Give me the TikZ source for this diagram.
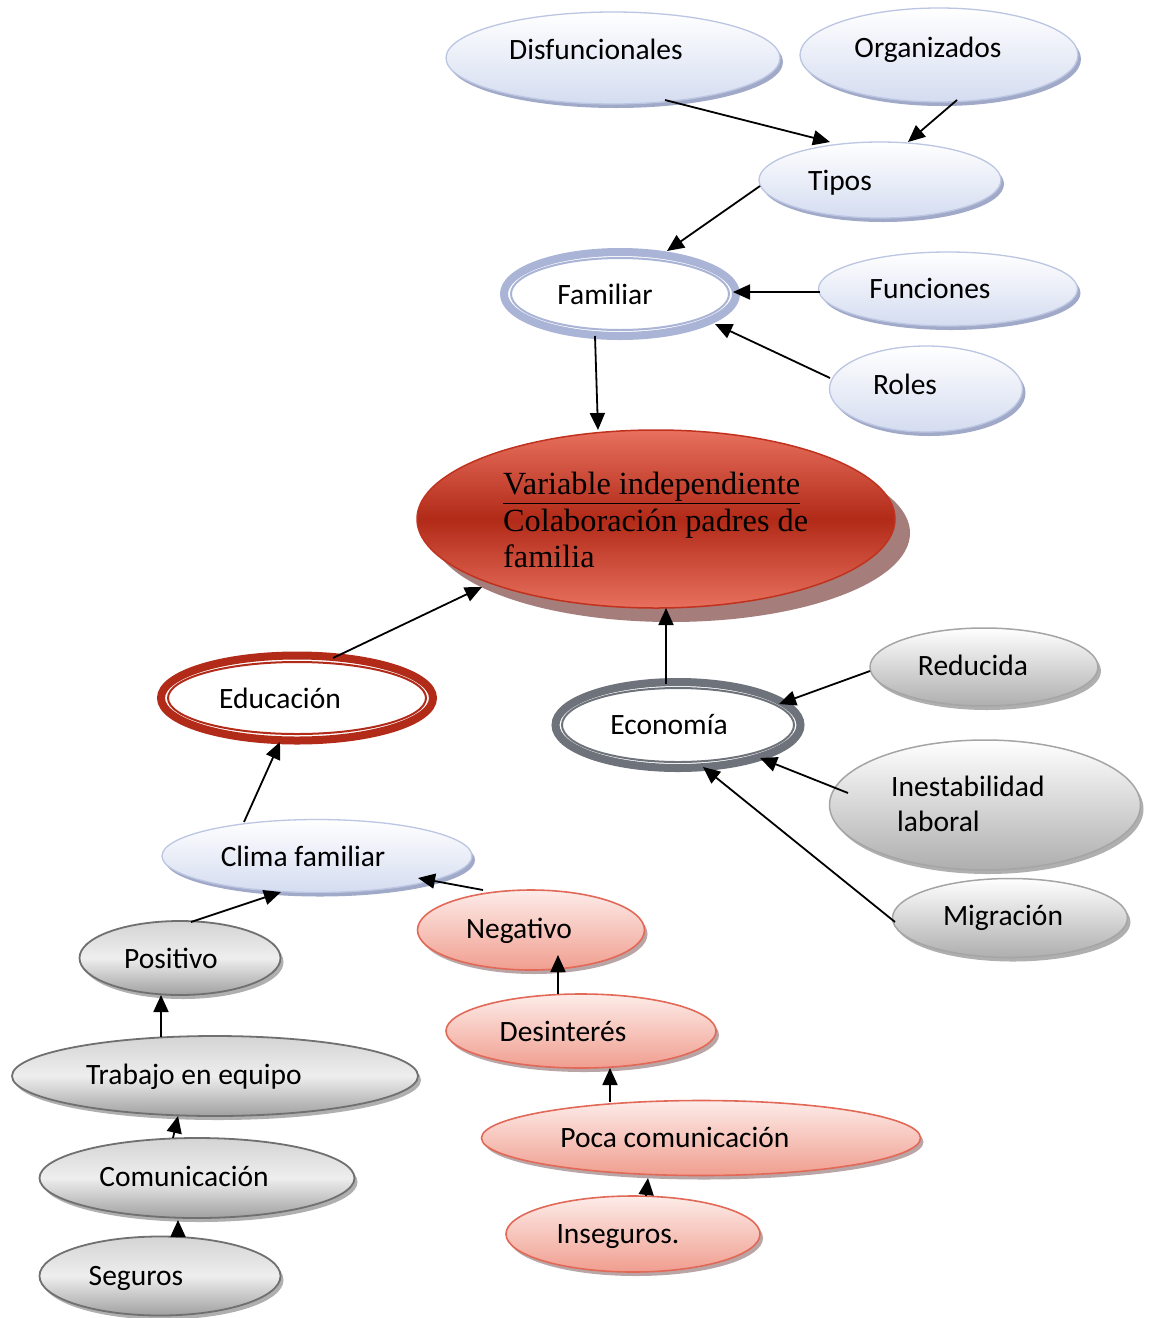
\documentclass[tikz,border=0pt]{standalone}
\usepackage{fontspec}
\setmainfont{Carlito}
\newfontfamily\censerif{Liberation Serif}
\usetikzlibrary{shapes.geometric,arrows.meta,calc,shadows}
\definecolor{bluebot}{RGB}{212,220,240}
\definecolor{bluebd}{RGB}{188,198,226}
\definecolor{bluesh}{RGB}{160,170,200}
\definecolor{graytop}{RGB}{212,212,212}
\definecolor{graymid}{RGB}{238,238,238}
\definecolor{graybot}{RGB}{160,160,160}
\definecolor{graybd}{RGB}{112,112,112}
\definecolor{graylbd}{RGB}{165,165,165}
\definecolor{graysh}{RGB}{175,175,175}
\definecolor{pinktop}{RGB}{253,236,233}
\definecolor{pinkbot}{RGB}{240,158,143}
\definecolor{pinkbd}{RGB}{226,105,88}
\definecolor{pinksh}{RGB}{185,165,165}
\definecolor{redlight}{RGB}{232,112,94}
\definecolor{reddark}{RGB}{178,42,24}
\definecolor{redbd}{RGB}{192,50,30}
\definecolor{redsh}{RGB}{165,125,122}
\definecolor{famcol}{RGB}{169,180,214}
\definecolor{educol}{RGB}{178,42,24}
\definecolor{ecocol}{RGB}{110,114,122}
\begin{document}
\begin{tikzpicture}[x=1pt,y=-1pt,
  base/.style={ellipse, inner sep=0pt, outer sep=0pt},
  blueel/.style={base, draw=bluebd, line width=1.3pt, top color=white, bottom color=bluebot,
    general shadow={fill=bluesh, shadow xshift=3pt, shadow yshift=-4pt}},
  grayel/.style={base, draw=graybd, line width=1.8pt, top color=graytop, bottom color=graybot, middle color=graymid,
    general shadow={fill=graysh, shadow xshift=3pt, shadow yshift=-4pt}},
  graylel/.style={base, draw=graylbd, line width=1.5pt, top color=white, bottom color=graybot!85!white,
    general shadow={fill=graysh, shadow xshift=3pt, shadow yshift=-4pt}},
  pinkel/.style={base, draw=pinkbd, line width=1.6pt, top color=pinktop, bottom color=pinkbot,
    general shadow={fill=pinksh, shadow xshift=3pt, shadow yshift=-4pt}},
  dblel/.style={base, line width=8pt, fill=white},
  txt/.style={font=\fontsize{29.5}{36}\selectfont, inner sep=0pt, text height=21pt, text depth=2pt},
  arr/.style={line width=1.8pt, -{Triangle[length=17pt,width=15pt]}}
]
\useasboundingbox[fill=white] (0,0) rectangle (1149,1318);

% top blue ellipses
\node[blueel, minimum width=334pt, minimum height=92pt] (dis) at (613,58) {};
\node[txt] at (596,50) {Disfuncionales};
\node[blueel, minimum width=278pt, minimum height=94pt] (org) at (939,55) {};
\node[txt] at (928,48) {Organizados};
\node[blueel, minimum width=242pt, minimum height=76pt] (tip) at (880,180) {};
\node[txt] at (840,181) {Tipos};
\node[blueel, minimum width=259pt, minimum height=74pt] (fun) at (948,289) {};
\node[txt] at (930,289) {Funciones};
\node[blueel, minimum width=193pt, minimum height=86pt] (rol) at (926,389) {};
\node[txt] at (905,385) {Roles};

% Familiar (double)
\node[dblel, draw=famcol, minimum width=232pt, minimum height=84pt] (fam) at (620,294) {};
\draw[famcol, line width=2pt] (fam.center) ellipse (109 and 36);
\node[txt] at (605,295) {Familiar};

% central
\fill[redsh] (671,533) ellipse (239 and 89);
\node[base, draw=redbd, line width=1.5pt, top color=redlight, bottom color=redlight, middle color=reddark,
  minimum width=478pt, minimum height=178pt] (cen) at (656,519) {};
\node[font=\censerif\fontsize{32.3}{36.5}\selectfont, align=left, anchor=west, inner sep=0pt] at (503,520)
  {\underline{Variable independiente}\\Colaboración padres de\\familia};

% Educacion (double)
\node[dblel, draw=educol, minimum width=272pt, minimum height=85pt] (edu) at (297,698) {};
\draw[educol, line width=2pt] (edu.center) ellipse (129 and 36);
\node[txt] at (280,699) {Educación};

% Economia (double)
\node[dblel, draw=ecocol, minimum width=245pt, minimum height=86pt] (eco) at (678,725) {};
\draw[ecocol, line width=2pt] (eco.center) ellipse (116 and 37);
\node[txt] at (669,725) {Economía};

% right gray ellipses
\node[graylel, minimum width=228pt, minimum height=78pt] (red) at (984,667) {};
\node[txt] at (973,666) {Reducida};
\node[graylel, minimum width=311pt, minimum height=130pt] (ine) at (985,805) {};
\node[align=left, anchor=west, inner sep=0pt, font=\fontsize{29.5}{35}\selectfont] at (891,804) {Inestabilidad\\\hspace*{6pt}laboral};
\node[graylel, minimum width=235pt, minimum height=79pt] (mig) at (1010,918) {};
\node[txt] at (1003,916) {Migración};

% Clima familiar
\node[blueel, minimum width=310pt, minimum height=73pt] (cli) at (317,856) {};
\node[txt] at (303,857) {Clima familiar};

% pink chain
\node[pinkel, minimum width=227pt, minimum height=80pt] (neg) at (531,930) {};
\node[txt] at (519,929) {Negativo};
\node[pinkel, minimum width=270pt, minimum height=74pt] (des) at (581,1031) {};
\node[txt] at (563,1032) {Desinterés};
\node[pinkel, minimum width=439pt, minimum height=75pt] (poc) at (701,1138) {};
\node[txt] at (675,1138) {Poca comunicación};
\node[pinkel, minimum width=254pt, minimum height=76pt] (ins) at (633,1234) {};
\node[txt] at (618,1234) {Inseguros.};

% gray chain
\node[grayel, minimum width=201pt, minimum height=74pt] (pos) at (180,958) {};
\node[txt] at (171,959) {Positivo};
\node[grayel, minimum width=406pt, minimum height=80pt] (tra) at (215,1076) {};
\node[txt] at (194,1075) {Trabajo en equipo};
\node[grayel, minimum width=315pt, minimum height=80pt] (com) at (197,1178) {};
\node[txt] at (184,1177) {Comunicación};
\node[grayel, minimum width=241pt, minimum height=79pt] (seg) at (160,1276) {};
\node[txt] at (136,1276) {Seguros};

% connectors
\draw[arr] ($(dis.center)+(52,42)$) -- ($(tip.center)+(-50,-38)$);
\draw[arr] ($(org.center)+(18,45)$) -- ($(tip.center)+(28,-38)$);
\draw[arr] ($(tip.center)+(-120,6)$) -- ($(fam.center)+(47,-43)$);
\draw[arr] ($(fun.center)+(-128,3)$) -- ($(fam.center)+(113,-2)$);
\draw[arr] ($(rol.center)+(-96,-11)$) -- ($(fam.center)+(95,30)$);
\draw[arr] ($(fam.center)+(-25,42)$) -- ($(cen.center)+(-58,-89)$);
\draw[arr] ($(edu.center)+(36,-40)$) -- ($(cen.center)+(-174,68)$);
\draw[arr] ($(eco.center)+(-12,-41)$) -- ($(cen.center)+(10,89)$);
\draw[arr] ($(red.center)+(-114,4)$) -- ($(eco.center)+(101,-21)$);
\draw[arr] ($(ine.center)+(-137,-12)$) -- ($(eco.center)+(82,33)$);
\draw[arr] ($(mig.center)+(-115,4)$) -- ($(eco.center)+(25,42)$);
\draw[arr] ($(cli.center)+(-73,-34)$) -- ($(edu.center)+(-17,44)$);
\draw[arr] ($(pos.center)+(11,-36)$) -- ($(cli.center)+(-36,36)$);
\draw[arr] ($(neg.center)+(-48,-40)$) -- ($(cli.center)+(101,22)$);
\draw[arr] ($(des.center)+(-23,-37)$) -- ($(neg.center)+(27,25)$);
\draw[arr] ($(tra.center)+(-54,-39)$) -- ($(pos.center)+(-19,37)$);
\draw[arr] ($(com.center)+(-24,-40)$) -- ($(tra.center)+(-37,40)$);
\draw[arr] ($(seg.center)+(18,-40)$) -- ($(com.center)+(-19,42)$);
\draw[arr] ($(poc.center)+(-91,-36)$) -- ($(des.center)+(29,37)$);
\draw[arr] ($(ins.center)+(13,-38)$) -- ($(poc.center)+(-53,40)$);
\end{tikzpicture}
\end{document}
